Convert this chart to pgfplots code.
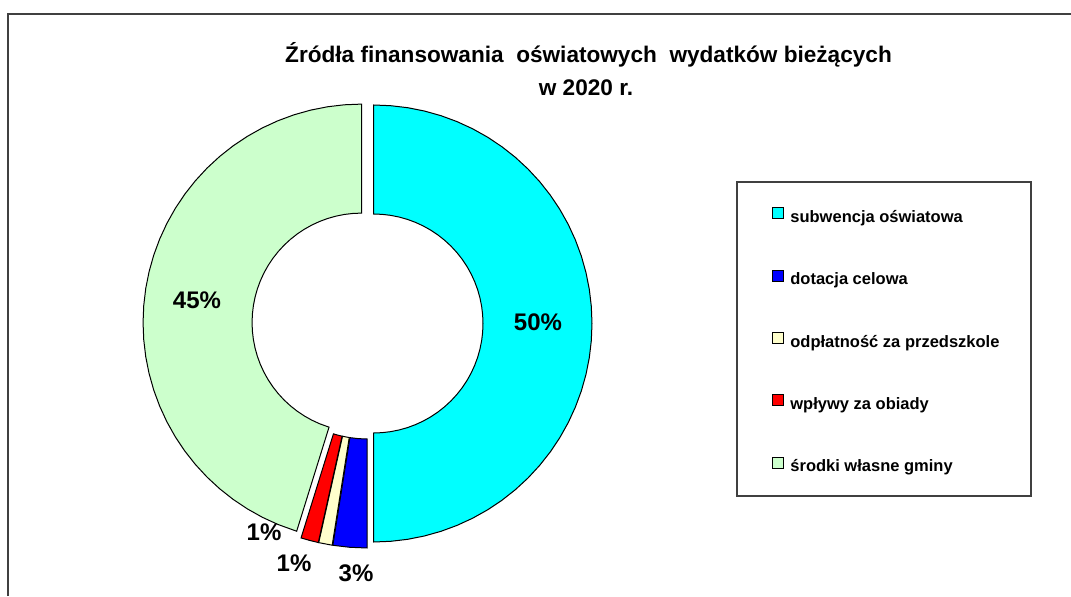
\documentclass[border=0pt]{standalone}
\usepackage{fontspec}
\setmainfont{Liberation Sans}
\usepackage{pgfplots}
\pgfplotsset{compat=1.18}

\definecolor{subw}{HTML}{00FFFF}
\definecolor{dotac}{HTML}{0000FF}
\definecolor{odpl}{HTML}{FFFFCC}
\definecolor{obiady}{HTML}{FF0000}
\definecolor{wlasne}{HTML}{CCFFCC}
\definecolor{ramka}{HTML}{404040}

\begin{document}
\begin{tikzpicture}
\begin{axis}[
  at={(0,0)}, anchor=south west,
  scale only axis, width=535.5pt, height=298pt,
  xmin=-367.5, xmax=703.5, ymin=-272.5, ymax=323.5,
  hide axis, clip=false,
  slice/.style={draw=black, line width=0.5pt, line join=miter, forget plot, data cs=polar},
  legend image code/.code={\draw[#1] (0pt,-0.25pt) rectangle (5.5pt,5.25pt);},
  legend cell align=left,
  legend style={at={(axis cs:404.5,116.5)}, anchor=north west, draw=none, fill=none,
    inner sep=0pt, row sep=21.65pt, column sep=3pt,
    font=\bfseries\fontsize{8.25}{10}\selectfont,
    nodes={inner sep=0pt, text height=6pt, text depth=2pt}},
]
  % ring slices: cumulative share in % (clockwise from 12 o'clock), radius in px
  % subwencja oswiatowa 50.0
  \addplot[slice, fill=subw, xshift=3pt] table[row sep=\\, x expr=90-3.6*\thisrowno{0}, y index=1] {
    p r\\
    0 218.5\\ 1.25 218.5\\ 2.5 218.5\\ 3.75 218.5\\ 5 218.5\\ 6.25 218.5\\ 7.5 218.5\\ 8.75 218.5\\
    10 218.5\\ 11.25 218.5\\ 12.5 218.5\\ 13.75 218.5\\ 15 218.5\\ 16.25 218.5\\ 17.5 218.5\\ 18.75 218.5\\
    20 218.5\\ 21.25 218.5\\ 22.5 218.5\\ 23.75 218.5\\ 25 218.5\\ 26.25 218.5\\ 27.5 218.5\\ 28.75 218.5\\
    30 218.5\\ 31.25 218.5\\ 32.5 218.5\\ 33.75 218.5\\ 35 218.5\\ 36.25 218.5\\ 37.5 218.5\\ 38.75 218.5\\
    40 218.5\\ 41.25 218.5\\ 42.5 218.5\\ 43.75 218.5\\ 45 218.5\\ 46.25 218.5\\ 47.5 218.5\\ 48.75 218.5\\
    50 218.5\\
    50 109.5\\ 48.75 109.5\\ 47.5 109.5\\ 46.25 109.5\\ 45 109.5\\ 43.75 109.5\\ 42.5 109.5\\ 41.25 109.5\\
    40 109.5\\ 38.75 109.5\\ 37.5 109.5\\ 36.25 109.5\\ 35 109.5\\ 33.75 109.5\\ 32.5 109.5\\ 31.25 109.5\\
    30 109.5\\ 28.75 109.5\\ 27.5 109.5\\ 26.25 109.5\\ 25 109.5\\ 23.75 109.5\\ 22.5 109.5\\ 21.25 109.5\\
    20 109.5\\ 18.75 109.5\\ 17.5 109.5\\ 16.25 109.5\\ 15 109.5\\ 13.75 109.5\\ 12.5 109.5\\ 11.25 109.5\\
    10 109.5\\ 8.75 109.5\\ 7.5 109.5\\ 6.25 109.5\\ 5 109.5\\ 3.75 109.5\\ 2.5 109.5\\ 1.25 109.5\\
    0 109.5\\
  } -- cycle;
  % dotacja celowa 2.5
  \addplot[slice, fill=dotac, xshift=-0.24pt, yshift=-2.99pt] table[row sep=\\, x expr=90-3.6*\thisrowno{0}, y index=1] {
    p r\\
    50 218.5\\ 51.25 218.5\\ 52.5 218.5\\
    52.5 109.5\\ 51.25 109.5\\ 50 109.5\\
  } -- cycle;
  % odplatnosc za przedszkole 1.0
  \addplot[slice, fill=odpl, xshift=-0.56pt, yshift=-2.95pt] table[row sep=\\, x expr=90-3.6*\thisrowno{0}, y index=1] {
    p r\\
    52.5 218.5\\ 53.5 218.5\\
    53.5 109.5\\ 52.5 109.5\\
  } -- cycle;
  % wplywy za obiady 1.3
  \addplot[slice, fill=obiady, xshift=-0.77pt, yshift=-2.90pt] table[row sep=\\, x expr=90-3.6*\thisrowno{0}, y index=1] {
    p r\\
    53.5 218.5\\ 54.15 218.5\\ 54.8 218.5\\
    54.8 109.5\\ 54.15 109.5\\ 53.5 109.5\\
  } -- cycle;
  % srodki wlasne gminy 45.2
  \addplot[slice, fill=wlasne, xshift=-2.97pt, yshift=0.45pt] table[row sep=\\, x expr=90-3.6*\thisrowno{0}, y index=1] {
    p r\\
    54.8 218.5\\ 56.25 218.5\\ 57.5 218.5\\ 58.75 218.5\\ 60 218.5\\ 61.25 218.5\\ 62.5 218.5\\ 63.75 218.5\\
    65 218.5\\ 66.25 218.5\\ 67.5 218.5\\ 68.75 218.5\\ 70 218.5\\ 71.25 218.5\\ 72.5 218.5\\ 73.75 218.5\\
    75 218.5\\ 76.25 218.5\\ 77.5 218.5\\ 78.75 218.5\\ 80 218.5\\ 81.25 218.5\\ 82.5 218.5\\ 83.75 218.5\\
    85 218.5\\ 86.25 218.5\\ 87.5 218.5\\ 88.75 218.5\\ 90 218.5\\ 91.25 218.5\\ 92.5 218.5\\ 93.75 218.5\\
    95 218.5\\ 96.25 218.5\\ 97.5 218.5\\ 98.75 218.5\\ 100 218.5\\
    100 109.5\\ 98.75 109.5\\ 97.5 109.5\\ 96.25 109.5\\ 95 109.5\\ 93.75 109.5\\ 92.5 109.5\\ 91.25 109.5\\
    90 109.5\\ 88.75 109.5\\ 87.5 109.5\\ 86.25 109.5\\ 85 109.5\\ 83.75 109.5\\ 82.5 109.5\\ 81.25 109.5\\
    80 109.5\\ 78.75 109.5\\ 77.5 109.5\\ 76.25 109.5\\ 75 109.5\\ 73.75 109.5\\ 72.5 109.5\\ 71.25 109.5\\
    70 109.5\\ 68.75 109.5\\ 67.5 109.5\\ 66.25 109.5\\ 65 109.5\\ 63.75 109.5\\ 62.5 109.5\\ 61.25 109.5\\
    60 109.5\\ 58.75 109.5\\ 57.5 109.5\\ 56.25 109.5\\ 54.8 109.5\\
  } -- cycle;

  \addlegendimage{fill=subw, draw=black, line width=0.5pt}
  \addlegendentry{subwencja oświatowa}
  \addlegendimage{fill=dotac, draw=black, line width=0.5pt}
  \addlegendentry{dotacja celowa}
  \addlegendimage{fill=odpl, draw=black, line width=0.5pt}
  \addlegendentry{odpłatność za przedszkole}
  \addlegendimage{fill=obiady, draw=black, line width=0.5pt}
  \addlegendentry{wpływy za obiady}
  \addlegendimage{fill=wlasne, draw=black, line width=0.5pt}
  \addlegendentry{środki własne gminy}

  % slice labels
  \begin{scope}[every node/.style={font=\bfseries\fontsize{12}{14}\selectfont}]
    \node at (axis cs:170.5,1.5) {50\%};
    \node at (axis cs:-170.5,23.5) {45\%};
    \node at (axis cs:-103.5,-208.5) {1\%};
    \node at (axis cs:-73.5,-239.5) {1\%};
    \node at (axis cs:-11.5,-249.5) {3\%};
  \end{scope}

  % title
  \node[font=\bfseries\fontsize{11.3}{13}\selectfont] at (axis cs:221,268.5)
    {Źródła finansowania\ \ oświatowych\ \ wydatków bieżących};
  \node[font=\bfseries\fontsize{11.3}{13}\selectfont] at (axis cs:218.5,235.5) {w 2020 r.};

  % legend frame and chart area frame
  \draw[ramka, line width=1.1pt] (axis cs:369.5,141.5) rectangle (axis cs:663.5,-172.5);
  \draw[ramka, line width=1.2pt] (axis cs:-359.5,-272.5) -- (axis cs:-359.5,309.5) -- (axis cs:703.5,309.5);
\end{axis}
\pgfresetboundingbox
\path (0,0) rectangle (535.5pt,298pt);
\end{tikzpicture}
\end{document}
